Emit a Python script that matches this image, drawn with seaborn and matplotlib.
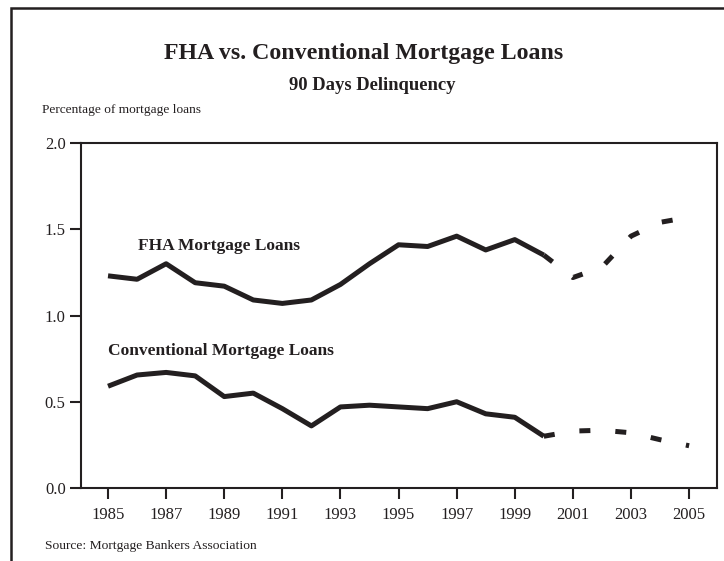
# FHA vs conventional mortgage loans, 90 days delinquency

import pandas as pd
import seaborn as sns
import matplotlib.pyplot as plt
from matplotlib.patches import Rectangle

years = list(range(1985, 2006))
fha = [1.23, 1.21, 1.30, 1.19, 1.17, 1.09, 1.07, 1.09, 1.18, 1.30,
       1.41, 1.40, 1.46, 1.38, 1.44, 1.35, 1.22, 1.28, 1.46, 1.54, 1.57]
conventional = [0.59, 0.655, 0.67, 0.65, 0.53, 0.55, 0.46, 0.36, 0.47, 0.48,
                0.47, 0.46, 0.50, 0.43, 0.41, 0.30, 0.33, 0.335, 0.32, 0.28, 0.245]
last_actual = 2000  # later years drawn dashed

df = pd.DataFrame({"year": years, "FHA": fha, "Conventional": conventional})
actual = df[df["year"] <= last_actual]
projected = df[df["year"] >= last_actual]

sns.set_style("ticks")
plt.rcParams["font.family"] = ["Liberation Serif", "DejaVu Serif"]

fig = plt.figure(figsize=(7.24, 5.61), dpi=100)
ax = fig.add_axes([81 / 724, 1 - 488 / 561, (717 - 81) / 724, (488 - 143) / 561])

for col in ["FHA", "Conventional"]:
    sns.lineplot(data=actual, x="year", y=col, ax=ax, color="#231f20",
                 linewidth=3.6, solid_capstyle="butt")
    sns.lineplot(data=projected, x="year", y=col, ax=ax, color="#231f20",
                 linewidth=3.6, dashes=False, linestyle=(0, (2.2, 5)))

ax.set_xlim(1984.07, 2005.96)
ax.set_ylim(0, 2.0)
ax.set_xticks(range(1985, 2006, 2))
ax.set_yticks([0, 0.5, 1.0, 1.5, 2.0])
ax.set_yticklabels(["0.0", "0.5", "1.0", "1.5", "2.0"])
ax.set_xlabel("")
ax.set_ylabel("")
ax.tick_params(axis="both", labelsize=12, length=8, width=1.5, color="#231f20",
               labelcolor="#231f20")
ax.tick_params(axis="x", pad=6)
ax.tick_params(axis="y", pad=3)
for s in ax.spines.values():
    s.set_visible(True)
    s.set_linewidth(1.5)
    s.set_color("#231f20")

ax.text(1986.03, 1.40, "FHA Mortgage Loans", fontsize=12.5, fontweight="bold",
        color="#231f20", va="center")
ax.text(1985.0, 0.795, "Conventional Mortgage Loans", fontsize=12.5,
        fontweight="bold", color="#231f20", va="center")

fig.text(364 / 724, 1 - 53 / 561, "FHA vs. Conventional Mortgage Loans",
         fontsize=17.2, fontweight="bold", ha="center", va="center", color="#231f20")
fig.text(372 / 724, 1 - 85 / 561, "90 Days Delinquency", fontsize=13.4,
         fontweight="bold", ha="center", va="center", color="#231f20")
fig.text(42 / 724, 1 - 110 / 561, "Percentage of mortgage loans", fontsize=9.6,
         va="center", color="#231f20")
fig.text(45 / 724, 1 - 546 / 561, "Source: Mortgage Bankers Association",
         fontsize=9.7, va="center", color="#231f20")

# outer frame running off the right and bottom edges
fig.patches.append(Rectangle((11 / 724, -0.1), 1.1, 1 - 8 / 561 + 0.1,
                             transform=fig.transFigure, fill=False,
                             edgecolor="#231f20", linewidth=1.8, clip_on=False))

fig.savefig("out.png", dpi=100)
